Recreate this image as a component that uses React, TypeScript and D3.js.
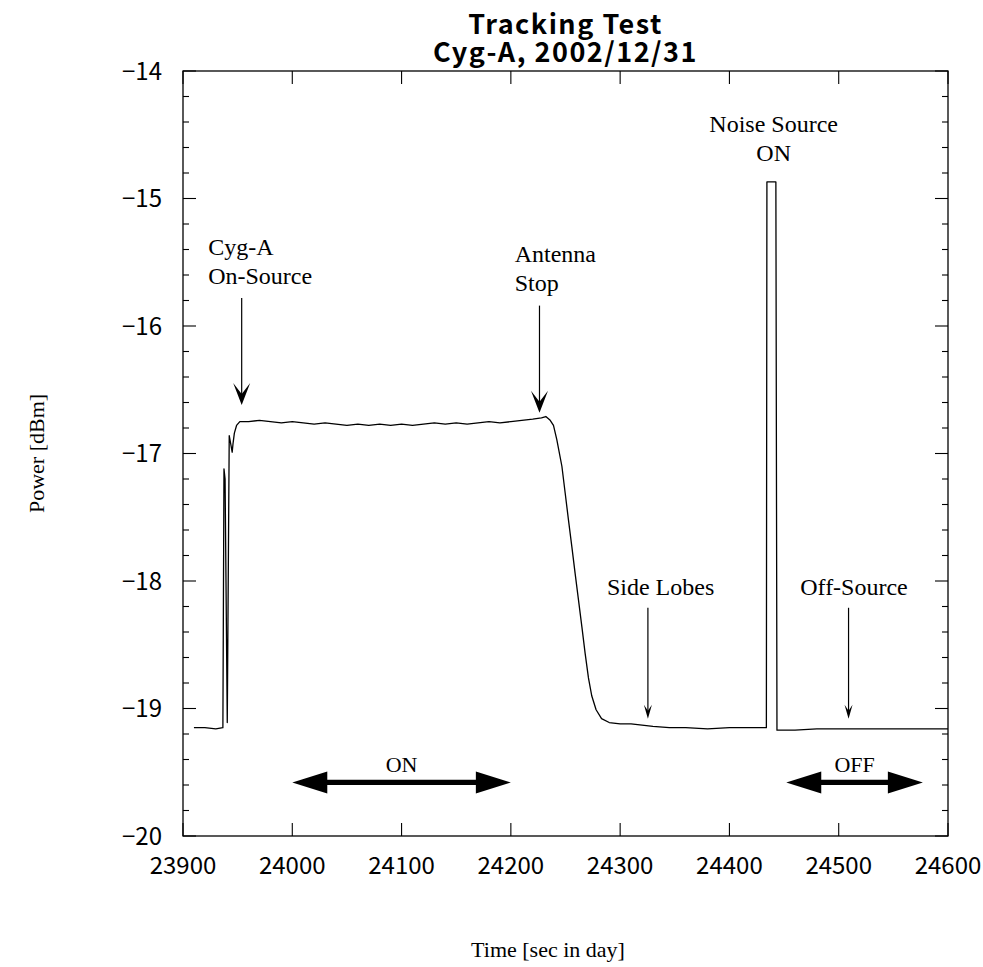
import React, { useRef, useEffect } from 'react';
import * as d3 from 'd3';

// time [sec in day] and power [dBm]
const timeSec = [
  23910, 23920, 23930, 23936.5, 23937.5, 23938.5, 23940.5, 23942.3, 23943.8, 23945, 23945.8, 23947, 23949, 23952,
  23960, 23970, 23980, 23990, 24000, 24010, 24020, 24030, 24040, 24050, 24060, 24070, 24080, 24090, 24100,
  24110, 24120, 24130, 24140, 24150, 24160, 24170, 24180, 24190, 24200, 24210, 24220, 24228, 24232, 24236,
  24239, 24242, 24246.7, 24249.7, 24252.7, 24255.8, 24258.8, 24261.9, 24265, 24268, 24271, 24274, 24278,
  24283, 24290, 24300, 24310, 24320, 24330, 24345, 24360, 24380, 24400, 24420, 24433.8, 24434.3, 24442.5,
  24443.5, 24460, 24480, 24500, 24520, 24550, 24575, 24600,
];
const powerDbm = [
  -19.15, -19.15, -19.16, -19.15, -17.12, -17.2, -19.11, -16.86, -16.93, -16.99, -16.92, -16.84, -16.78, -16.75,
  -16.75, -16.74, -16.75, -16.76, -16.75, -16.76, -16.77, -16.76, -16.77, -16.78, -16.77, -16.78, -16.77, -16.78, -16.77,
  -16.78, -16.77, -16.76, -16.77, -16.76, -16.77, -16.76, -16.75, -16.76, -16.75, -16.74, -16.73, -16.72, -16.71, -16.74,
  -16.78, -16.89, -17.1, -17.31, -17.52, -17.73, -17.94, -18.15, -18.36, -18.57, -18.76, -18.9, -19.01,
  -19.08, -19.11, -19.12, -19.12, -19.13, -19.14, -19.15, -19.15, -19.16, -19.15, -19.15, -19.15, -14.87, -14.87,
  -19.17, -19.17, -19.16, -19.16, -19.16, -19.16, -19.16, -19.16,
];

const xTicks = [23900, 24000, 24100, 24200, 24300, 24400, 24500, 24600];
const yTicks = [-20, -19, -18, -17, -16, -15, -14];

// annotation: lines of text, text anchor point, arrow x, arrow top/bottom (dBm)
const notes = [
  { lines: ['Cyg-A', 'On-Source'], tx: 23923, ty: -15.44, anchor: 'start', ax: 23953.7, a0: -15.78, a1: -16.62, head: 'big' },
  { lines: ['Antenna', 'Stop'], tx: 24203.5, ty: -15.5, anchor: 'start', ax: 24226.2, a0: -15.84, a1: -16.68, head: 'big' },
  { lines: ['Noise Source', 'ON'], tx: 24440.5, ty: -14.48, anchor: 'middle', ax: null, a0: 0, a1: 0, head: '' },
  { lines: ['Side Lobes'], tx: 24337, ty: -18.11, anchor: 'middle', ax: 24325.4, a0: -18.21, a1: -19.08, head: 'small' },
  { lines: ['Off-Source'], tx: 24514, ty: -18.11, anchor: 'middle', ax: 24509, a0: -18.21, a1: -19.08, head: 'small' },
];

// ON / OFF double arrows
const spans = [
  { label: 'ON', x0: 24000, x1: 24200, y: -19.58 },
  { label: 'OFF', x0: 24452, x1: 24577, y: -19.58 },
];

const W = 983;
const H = 967;
const M = { left: 183, right: 35, top: 71, bottom: 131 };
const serif = '"Liberation Serif", "Times New Roman", serif';
const gothic = '"Noto Sans CJK JP", "Noto Sans", sans-serif';

const App = () => {
  const svgRef = useRef<SVGSVGElement>(null);

  useEffect(() => {
    if (!svgRef.current) return;
    const svg = d3.select(svgRef.current);
    svg.selectAll('*').remove();

    const x = d3.scaleLinear().domain([23900, 24600]).range([M.left, W - M.right]);
    const y = d3.scaleLinear().domain([-20, -14]).range([H - M.bottom, M.top]);
    const [x0, x1] = x.range();
    const [yb, yt] = y.range();
    const cx = (x0 + x1) / 2;

    svg.append('rect').attr('width', W).attr('height', H).attr('fill', '#fff');

    // title, two tight lines
    const title = svg.append('text')
      .attr('text-anchor', 'middle')
      .attr('font-family', gothic)
      .attr('font-weight', 'bold')
      .attr('font-size', 27)
      .attr('letter-spacing', 1.5);
    title.append('tspan').attr('x', cx).attr('y', 34).text('Tracking Test');
    title.append('tspan').attr('x', cx).attr('y', 62).text('Cyg-A, 2002/12/31');

    // frame
    svg.append('rect')
      .attr('x', x0).attr('y', yt)
      .attr('width', x1 - x0).attr('height', yb - yt)
      .attr('fill', 'none').attr('stroke', '#000').attr('stroke-width', 1.3);

    // ticks (inward on all four sides)
    const tk = svg.append('g').attr('stroke', '#000').attr('stroke-width', 1.1);
    xTicks.forEach(t => {
      tk.append('line').attr('x1', x(t)).attr('x2', x(t)).attr('y1', yb).attr('y2', yb - 13);
      tk.append('line').attr('x1', x(t)).attr('x2', x(t)).attr('y1', yt).attr('y2', yt + 13);
    });
    d3.range(-20, -13.99, 0.2).forEach(v => {
      const major = Math.abs(v - Math.round(v)) < 1e-6;
      const len = major ? 13 : 6;
      tk.append('line').attr('x1', x0).attr('x2', x0 + len).attr('y1', y(v)).attr('y2', y(v));
      tk.append('line').attr('x1', x1).attr('x2', x1 - len).attr('y1', y(v)).attr('y2', y(v));
    });

    // tick labels
    svg.append('g')
      .selectAll('text')
      .data(xTicks)
      .enter()
      .append('text')
      .attr('x', d => x(d))
      .attr('y', yb + 38)
      .attr('text-anchor', 'middle')
      .attr('font-family', gothic)
      .attr('font-size', 24)
      .text(d => d);
    svg.append('g')
      .selectAll('text')
      .data(yTicks)
      .enter()
      .append('text')
      .attr('x', x0 - 21)
      .attr('y', d => y(d) + 8.5)
      .attr('text-anchor', 'end')
      .attr('font-family', gothic)
      .attr('font-size', 24)
      .text(d => '\u2212' + Math.abs(d));

    // axis titles
    svg.append('text')
      .attr('transform', `translate(44,${(yt + yb) / 2}) rotate(-90)`)
      .attr('text-anchor', 'middle')
      .attr('font-family', serif)
      .attr('font-size', 22)
      .text('Power [dBm]');
    svg.append('text')
      .attr('x', 548)
      .attr('y', 957)
      .attr('text-anchor', 'middle')
      .attr('font-family', serif)
      .attr('font-size', 22)
      .text('Time [sec in day]');

    // trace
    const pts = timeSec.map((t, i) => [t, powerDbm[i]] as [number, number]);
    const line = d3.line<[number, number]>().x(d => x(d[0])).y(d => y(d[1]));
    svg.append('path')
      .attr('d', line(pts))
      .attr('fill', 'none')
      .attr('stroke', '#000')
      .attr('stroke-width', 1.3)
      .attr('stroke-linejoin', 'round');

    // annotations
    notes.forEach(n => {
      const t = svg.append('text')
        .attr('text-anchor', n.anchor)
        .attr('font-family', serif)
        .attr('font-size', 24);
      n.lines.forEach((s, i) => {
        t.append('tspan').attr('x', x(n.tx)).attr('y', y(n.ty) + i * 29).text(s);
      });
      if (n.ax == null) return;
      const ax = x(n.ax);
      const ya = y(n.a0);
      const yz = y(n.a1);
      svg.append('line')
        .attr('x1', ax).attr('x2', ax).attr('y1', ya).attr('y2', yz - 4)
        .attr('stroke', '#000').attr('stroke-width', 1.2);
      const hw = n.head === 'big' ? 8.5 : 4;
      const hl = n.head === 'big' ? 22 : 14;
      const notch = n.head === 'big' ? 11 : 8;
      svg.append('path')
        .attr('d', `M${ax},${yz} L${ax - hw},${yz - hl} L${ax},${yz - notch} L${ax + hw},${yz - hl} Z`)
        .attr('fill', '#000');
    });

    // double arrows
    spans.forEach(s => {
      const a = x(s.x0);
      const b = x(s.x1);
      const yy = y(s.y);
      const hl = 35;
      const hh = 11;
      const sh = 2.6;
      svg.append('path')
        .attr('d', `M${a},${yy} L${a + hl},${yy - hh} L${a + hl},${yy - sh} L${b - hl},${yy - sh} L${b - hl},${yy - hh} L${b},${yy} L${b - hl},${yy + hh} L${b - hl},${yy + sh} L${a + hl},${yy + sh} L${a + hl},${yy + hh} Z`)
        .attr('fill', '#000');
      svg.append('text')
        .attr('x', (a + b) / 2)
        .attr('y', yy - 10)
        .attr('text-anchor', 'middle')
        .attr('font-family', serif)
        .attr('font-size', 22)
        .text(s.label);
    });
  }, []);

  return (
    <div style={{ position: 'absolute', left: 0, top: 0 }}>
      <svg ref={svgRef} width={W} height={H} style={{ display: 'block' }} />
    </div>
  );
};

export default App;
